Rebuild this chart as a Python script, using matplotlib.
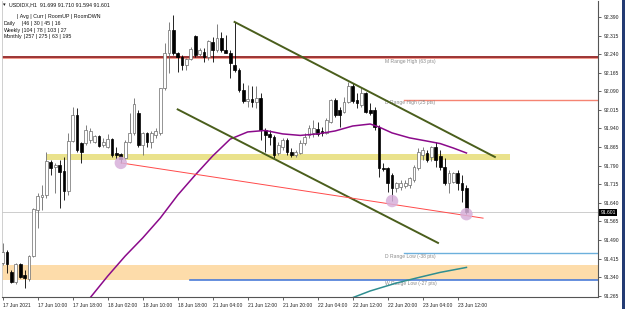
import matplotlib
matplotlib.use("Agg")
import matplotlib.pyplot as plt
from matplotlib.patches import Rectangle

# ---------------- data ----------------
opens = [91.397, 91.441, 91.360, 91.320, 91.393, 91.348, 91.332, 91.425, 91.611, 91.663,
         91.671, 91.805, 91.784, 91.792, 91.768, 91.688, 91.889, 91.994, 91.881, 91.881,
         91.893, 91.885, 91.910, 91.873, 91.865, 91.897, 91.841, 91.837, 91.821, 91.885,
         91.922, 92.002, 91.873, 91.922, 91.885, 91.914, 91.922, 92.103, 92.245, 92.337,
         92.245, 92.228, 92.196, 92.220, 92.313, 92.241, 92.249, 92.228, 92.289, 92.257,
         92.305, 92.257, 92.245, 92.196, 92.176, 92.095, 92.051, 92.059, 92.047, 92.063,
         91.934, 91.918, 91.906, 91.841, 91.865, 91.893, 91.845, 91.833, 91.841, 91.881,
         91.914, 91.922, 91.938, 91.930, 91.922, 91.966, 92.055, 92.015, 92.006, 92.047,
         92.111, 92.055, 92.035, 92.083, 92.015, 92.015, 91.946, 91.780, 91.780, 91.752,
         91.700, 91.704, 91.708, 91.712, 91.732, 91.780, 91.833, 91.841, 91.825, 91.865,
         91.829, 91.784, 91.720, 91.724, 91.760, 91.720, 91.699]
highs = [91.478, 91.449, 91.369, 91.397, 91.397, 91.369, 91.429, 91.619, 91.679, 91.712,
         91.845, 91.813, 91.801, 91.813, 91.825, 91.922, 92.027, 92.023, 91.885, 91.954,
         91.942, 91.914, 91.914, 91.902, 91.918, 91.902, 91.865, 91.841, 91.893, 92.002,
         92.063, 92.015, 91.926, 91.926, 91.930, 91.942, 92.103, 92.285, 92.370, 92.398,
         92.249, 92.237, 92.224, 92.269, 92.317, 92.265, 92.265, 92.297, 92.309, 92.362,
         92.329, 92.317, 92.257, 92.370, 92.184, 92.124, 92.115, 92.111, 92.111, 92.083,
         91.942, 91.934, 91.914, 91.885, 91.902, 91.902, 91.861, 91.853, 91.893, 91.922,
         91.954, 91.974, 91.966, 91.946, 91.982, 92.059, 92.063, 92.027, 92.067, 92.128,
         92.124, 92.083, 92.107, 92.087, 92.043, 92.027, 91.954, 91.801, 91.784, 91.760,
         91.724, 91.732, 91.732, 91.744, 91.792, 91.861, 91.865, 91.853, 91.869, 91.885,
         91.853, 91.821, 91.772, 91.764, 91.772, 91.752, 91.710]
lows = [91.389, 91.356, 91.316, 91.312, 91.336, 91.296, 91.324, 91.421, 91.538, 91.611,
        91.659, 91.752, 91.679, 91.619, 91.651, 91.671, 91.885, 91.845, 91.801, 91.873,
        91.881, 91.881, 91.865, 91.865, 91.861, 91.825, 91.817, 91.801, 91.813, 91.881,
        91.914, 91.865, 91.833, 91.865, 91.861, 91.902, 91.914, 92.095, 92.164, 92.237,
        92.168, 92.176, 92.176, 92.216, 92.228, 92.233, 92.208, 92.216, 92.208, 92.249,
        92.249, 92.245, 92.144, 92.168, 92.087, 92.043, 92.027, 92.027, 92.023, 91.893,
        91.845, 91.873, 91.821, 91.833, 91.853, 91.833, 91.825, 91.825, 91.837, 91.873,
        91.902, 91.906, 91.910, 91.910, 91.918, 91.962, 91.986, 91.946, 92.002, 92.043,
        92.043, 92.023, 92.027, 92.002, 91.994, 91.934, 91.744, 91.768, 91.683, 91.647,
        91.683, 91.692, 91.700, 91.700, 91.724, 91.772, 91.813, 91.805, 91.809, 91.784,
        91.772, 91.712, 91.679, 91.720, 91.692, 91.643, 91.594]
closes = [91.441, 91.393, 91.320, 91.393, 91.340, 91.336, 91.425, 91.615, 91.667, 91.671,
          91.809, 91.780, 91.792, 91.764, 91.688, 91.889, 91.994, 91.853, 91.845, 91.934,
          91.930, 91.910, 91.869, 91.885, 91.897, 91.833, 91.833, 91.817, 91.885, 91.922,
          92.039, 91.873, 91.922, 91.885, 91.922, 91.930, 92.103, 92.245, 92.337, 92.245,
          92.228, 92.196, 92.220, 92.261, 92.237, 92.257, 92.228, 92.293, 92.257, 92.305,
          92.257, 92.245, 92.204, 92.176, 92.095, 92.051, 92.059, 92.047, 92.063, 91.934,
          91.914, 91.906, 91.833, 91.873, 91.893, 91.845, 91.833, 91.845, 91.881, 91.906,
          91.942, 91.942, 91.918, 91.922, 91.974, 92.055, 91.994, 91.994, 92.047, 92.111,
          92.051, 92.043, 92.083, 92.006, 92.002, 91.946, 91.780, 91.776, 91.720, 91.700,
          91.720, 91.720, 91.720, 91.740, 91.784, 91.845, 91.853, 91.813, 91.865, 91.813,
          91.784, 91.720, 91.760, 91.760, 91.720, 91.692, 91.601]

# moving averages (read at sample bars)
ma_purple_bars = [19, 24, 28, 32, 36, 40, 44, 48, 52, 56, 60, 64, 68, 72, 76, 80, 84, 86, 89, 93, 97, 100, 103, 106]
ma_purple_vals = [91.235, 91.344, 91.425, 91.498, 91.578, 91.671, 91.752, 91.829, 91.897, 91.926, 91.932, 91.918,
                  91.912, 91.918, 91.930, 91.950, 91.958, 91.946, 91.922, 91.902, 91.889, 91.879, 91.861, 91.841]
ma_teal_bars = [79, 80, 84, 90, 95, 100, 106]
ma_teal_vals = [91.239, 91.257, 91.284, 91.316, 91.338, 91.359, 91.379]

# drawn objects
channel_upper = ([53, 112.5], [92.370, 91.825])
channel_lower = ([40, 99.5], [92.017, 91.478])
red_trend = ([27, 109.8], [91.801, 91.578])
touch_bars = [27, 89, 106]

level_mtop = 92.228
level_m_high = 92.223
level_d_high = 92.053
level_d_low = 91.436
level_w_low = 91.328
band_orange = (91.328, 91.389)
band_yellow = (91.813, 91.835)
current_price = 91.601

xtick_bars = [0, 8, 16, 24, 32, 40, 48, 56, 64, 72, 80, 88, 96, 104]
xtick_labels = ["17 Jun 2021", "17 Jun 10:00", "17 Jun 18:00", "18 Jun 02:00", "18 Jun 10:00",
                "18 Jun 18:00", "21 Jun 04:00", "21 Jun 12:00", "21 Jun 20:00", "22 Jun 04:00",
                "22 Jun 12:00", "22 Jun 20:00", "23 Jun 04:00", "23 Jun 12:00"]
ytick_vals = [92.390, 92.315, 92.240, 92.165, 92.090, 92.015, 91.940, 91.865,
              91.790, 91.715, 91.640, 91.565, 91.490, 91.415, 91.340, 91.265]

# ---------------- figure ----------------
FONT = "Liberation Sans"
plt.rcParams["font.family"] = [FONT, "DejaVu Sans"]
W, H = 625, 309
fig = plt.figure(figsize=(6.25, 3.09), dpi=100)
fig.patch.set_facecolor("white")
ax = fig.add_axes([2 / W, 12 / H, 596 / W, 296 / H])
ax.set_xlim(-0.16, 136.07)
ax.set_ylim(91.2596, 92.4546)

# bands
ax.axhspan(band_orange[0], band_orange[1], color="#FDDCAA", lw=0, zorder=0)
ax.fill_between([10.1, 116], band_yellow[0], band_yellow[1], color="#EAE28C", lw=0, zorder=0.5)

# horizontal levels
ax.axhline(level_mtop, color="#8B1010", lw=1.2, zorder=1)
ax.axhline(level_m_high, color="#F08878", lw=0.6, zorder=1)
ax.plot([91.8, 140], [level_d_high] * 2, color="#F58472", lw=1.0, zorder=1)
ax.plot([91.8, 140], [level_d_low] * 2, color="#6CB0DC", lw=1.0, zorder=1)
ax.plot([42.8, 140], [level_w_low] * 2, color="#4A7BD8", lw=1.2, zorder=1)
ax.axhline(current_price, color="#CDCDCD", lw=0.7, zorder=1)

lab_kw = dict(fontsize=3.6, color="#8C8C8C", va="center", ha="left", zorder=2)
ax.text(87.4, 92.212, "M Range High (63 pts)", **lab_kw)
ax.text(87.4, 92.043, "D Range High (25 pts)", **lab_kw)
ax.text(87.4, 91.425, "D Range Low (-38 pts)", **lab_kw)
ax.text(87.4, 91.316, "W Range Low (-27 pts)", **lab_kw)

# moving averages
ax.plot(ma_purple_bars, ma_purple_vals, color="#8B0A8B", lw=1.1, zorder=4)
ax.plot(ma_teal_bars, ma_teal_vals, color="#2E8E90", lw=1.1, zorder=4)

# candles
for i, (o, h, l, c) in enumerate(zip(opens, highs, lows, closes)):
    bull = c >= o
    col = "#6A6A6A" if bull else "#000000"
    ax.vlines(i, l, h, color=col, lw=0.6, zorder=3)
    bottom = min(o, c)
    height = max(abs(c - o), 0.0015)
    ax.add_patch(Rectangle((i - 0.32, bottom), 0.64, height,
                           facecolor="white" if bull else "black",
                           edgecolor=col, lw=0.5, zorder=3.5))

# channel and trend lines
ax.plot(*channel_upper, color="#4A5E1C", lw=1.4, zorder=5)
ax.plot(*channel_lower, color="#4A5E1C", lw=1.4, zorder=5)
ax.plot(*red_trend, color="#FF4A4A", lw=0.7, zorder=5)

# touch circles
ax.scatter(touch_bars, [lows[b] for b in touch_bars], s=80, color="#D7B0DA",
           alpha=0.85, edgecolors="none", zorder=6)

# axes styling
ax.set_xticks(xtick_bars)
ax.set_xticklabels(xtick_labels, ha="left", fontsize=3.6)
ax.yaxis.tick_right()
ax.set_yticks(ytick_vals)
ax.set_yticklabels([f"{v:.3f}" for v in ytick_vals], fontsize=3.6)
ax.tick_params(axis="x", length=2.5, width=0.5, pad=1.5, colors="#222222")
ax.tick_params(axis="y", length=2.5, width=0.5, pad=1.5, colors="#222222")
for s in ["top"]:
    ax.spines[s].set_visible(False)
ax.spines["left"].set_color("#C8C8C8")
ax.spines["left"].set_linewidth(0.6)
for s in ["bottom", "right"]:
    ax.spines[s].set_color("#555555")
    ax.spines[s].set_linewidth(0.8)

# current price tag
ax.text(1.004, current_price, f"{current_price:.3f}", transform=ax.get_yaxis_transform(),
        fontsize=3.6, color="white", va="center", ha="left",
        bbox=dict(boxstyle="square,pad=0.25", fc="black", ec="black", lw=0))

# header text
def ft(x, y, s, **kw):
    fig.text(x / W, 1 - y / H, s, fontsize=3.8, va="center", ha="left", color="#111111", **kw)

ft(3, 5, "\u25be", family=["DejaVu Sans"])
ft(9, 5, "USDIDX,H1  91.699 91.710 91.594 91.601")
ft(17, 16.7, "| Avg | Curr | RoomUP | RoomDWN")
ft(4, 23.5, "Daily")
ft(21.5, 23.5, "|46 | 30 | 45 | 16")
ft(4, 30.2, "Weekly")
ft(21.5, 30.2, "|104 | 78 | 103 | 27")
ft(4, 36.9, "Monthly")
ft(24, 36.9, "|257 | 275 | 63 | 195")

# right window edge
fig.patches.append(Rectangle((622 / W, 0), 3 / W, 1, transform=fig.transFigure,
                             facecolor="#233B73", edgecolor="none"))

fig.savefig("out.png", dpi=100, facecolor="white")
